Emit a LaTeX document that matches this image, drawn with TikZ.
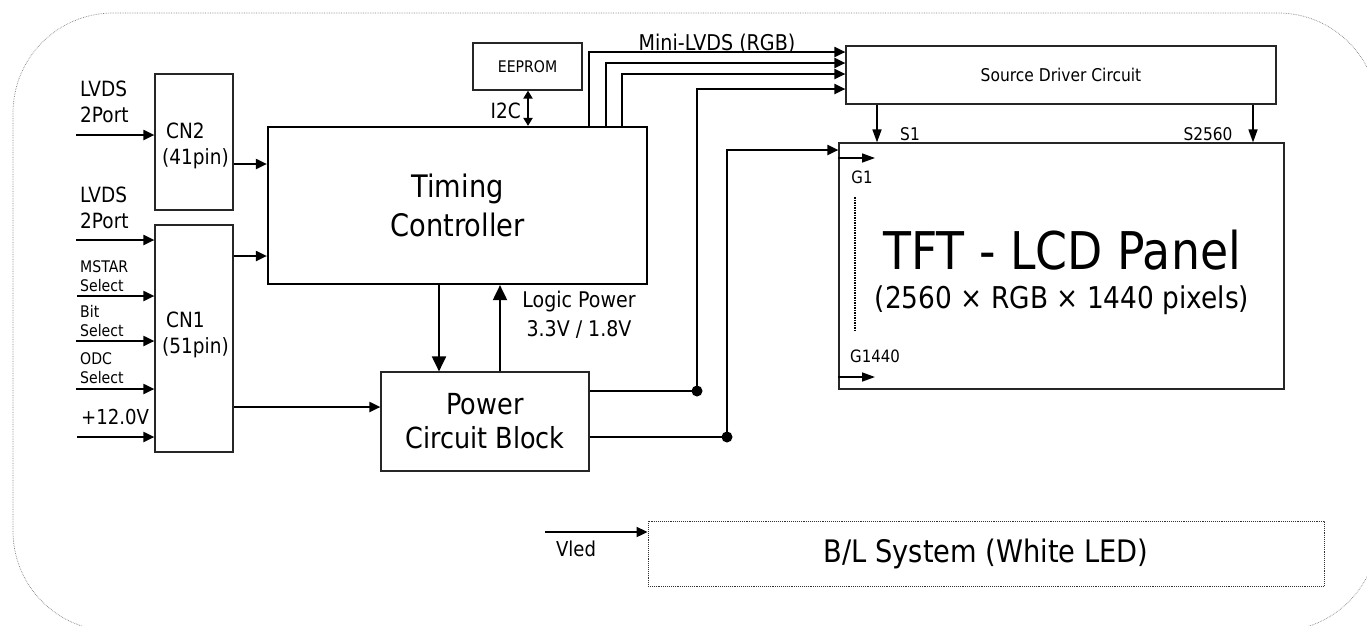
\documentclass[tikz,border=0pt]{standalone}
\usepackage{fontspec}
\setmainfont{DejaVu Sans}[FakeStretch=0.88]
\usetikzlibrary{arrows.meta}
\newcommand{\fsz}[2]{\fontsize{#1}{#2}\selectfont}
\tikzset{
    frame/.style  = {draw=gray, densely dotted, line width=0.7pt,
                     rounded corners=100pt},
    blk/.style    = {draw=black!85, line width=1.2pt, inner sep=0pt},
    tconbox/.style= {draw=black, line width=2.2pt, inner sep=0pt},
    blbox/.style  = {draw=black!80, densely dotted, line width=0.9pt,
                     inner sep=0pt},
    arr/.style    = {-{Triangle[length=11pt, width=10pt]}, line width=2pt},
    thinarr/.style= {-{Triangle[length=13pt, width=9pt]}, line width=1.6pt},
    bigarr/.style = {-{Triangle[length=15pt, width=14pt]}, line width=2pt},
    dblarr/.style = {{Triangle[length=8pt, width=9pt]}-{Triangle[length=8pt, width=9pt]},
                     line width=2pt},
    dot/.style    = {circle, fill, inner sep=0pt, minimum size=11pt},
    lbl/.style    = {inner sep=0pt, align=left, anchor=west,
                     font=\fsz{21}{26}},
    sel/.style    = {inner sep=0pt, align=left, anchor=west,
                     font=\fsz{16}{19}},
}
\begin{document}
\begin{tikzpicture}[x=1pt, y=-1pt]
        \useasboundingbox (0,0) rectangle (1367,625);
        % outer frame
        \begin{scope}
          \clip (0,0) rectangle (1367,625);
          \draw[frame] (13,13) rectangle (1378,631);
        \end{scope}
        % blocks
        \node[blk, minimum width=78pt, minimum height=136pt] (cn2) at (194,142) {};
        \node[blk, minimum width=78pt, minimum height=227pt] (cn1) at (194,338.5) {};
        \node[tconbox, minimum width=379pt, minimum height=157pt,
              align=center, font=\fsz{31}{39}] (tcon) at (457.5,205.5) {Timing\\Controller};
        \node[blk, minimum width=109pt, minimum height=47pt,
              font=\fsz{16}{19}] (eep) at (527.5,66.5) {EEPROM};
        \node[blk, minimum width=208pt, minimum height=99pt,
              align=center, font=\fsz{29}{34}] (pwr) at (485,421.5) {Power\\Circuit Block};
        \node[blk, minimum width=430pt, minimum height=58pt,
              font=\fsz{17.6}{21}] (src) at (1061,75) {Source Driver Circuit};
        \node[blk, minimum width=445pt, minimum height=246pt] (pnl) at (1061.5,266) {};
        \node[blbox, minimum width=676pt, minimum height=65pt,
              font=\fsz{31}{36}] (bl) at (986,553.5) {B/L System (White LED)};
        % connector labels
        \node[lbl] (cn2t) at (162,146) {\hspace{4pt}CN2\\(41pin)};
        \node[lbl] (cn1t) at (162,335) {\hspace{4pt}CN1\\(51pin)};
        \node[anchor=base, inner sep=0pt, font=\fsz{52}{60}] (tft) at (1062,269) {TFT - LCD Panel};
        \node[anchor=base, inner sep=0pt, font=\fsz{30}{36}] (pix) at (1062,308)
              {(2560 × RGB × 1440 pixels)};
        % inputs
        \node[lbl] (in1t) at (80,102) {LVDS\\2Port};
        \node[lbl] (in2t) at (80,208) {LVDS\\2Port};
        \node[sel] (in3t) at (80,276.5) {MSTAR\\Select};
        \node[sel] (in4t) at (80,321.5) {Bit\\Select};
        \node[sel] (in5t) at (80,368.5) {ODC\\Select};
        \node[lbl, font=\fsz{20.6}{24}] (in6t) at (81,417) {+12.0V};
        \coordinate (in1) at (76,135);
        \coordinate (in2) at (76,240);
        \coordinate (in3) at (77,296);
        \coordinate (in4) at (76,341);
        \coordinate (in5) at (76,389);
        \coordinate (in6) at (77,437);
        \foreach \p/\b in {in1/cn2, in2/cn1, in3/cn1, in4/cn1, in5/cn1, in6/cn1}
          \draw[arr] (\p) -- (\p -| \b.west);
        % connectors into timing controller and power block
        \coordinate (k1) at (250,164);
        \coordinate (k2) at (250,256);
        \coordinate (k3) at (300,407);
        \draw[arr] (k1 -| cn2.east) -- (k1 -| tcon.west);
        \draw[arr] (k2 -| cn1.east) -- (k2 -| tcon.west);
        \draw[arr] (k3 -| cn1.east) -- (k3 -| pwr.west);
        \coordinate (v1) at (439,330);
        \coordinate (v2) at (500,330);
        \draw[bigarr] (v1 |- tcon.south) -- (v1 |- pwr.north);
        \draw[bigarr] (v2 |- pwr.north) -- (v2 |- tcon.south);
        \node[align=center, inner sep=0pt, font=\fsz{21.6}{29}] (lp) at (579,314.5)
              {Logic Power\\3.3V / 1.8V};
        % eeprom link
        \coordinate (ic) at (528,110);
        \draw[dblarr] (ic |- eep.south) -- (ic |- tcon.north);
        \node[anchor=east, inner sep=0pt, font=\fsz{21}{24}] (ict) at (521,111) {I2C};
        % mini-lvds buses
        \coordinate (m1) at (589,52);
        \coordinate (m2) at (606,63);
        \coordinate (m3) at (622,74);
        \foreach \m in {m1, m2, m3}
          \draw[arr] (\m |- tcon.north) -- (\m) -- (\m -| src.west);
        \node[anchor=base, inner sep=0pt, font=\fsz{21.7}{25}] (mlt) at (717,50) {Mini-LVDS (RGB)};
        % power rails
        \coordinate (m4) at (697,89);
        \coordinate (m5) at (727,150);
        \node[dot] (d1) at (697,391) {};
        \node[dot] (d2) at (727,437) {};
        \draw[line width=2pt] (d1 -| pwr.east) -- (d1.center);
        \draw[line width=2pt] (d2 -| pwr.east) -- (d2.center);
        \draw[arr] (d1.center) -- (m4) -- (m4 -| src.west);
        \draw[arr] (d2.center) -- (m5) -- (m5 -| pnl.west);
        % source and gate lines
        \coordinate (s1) at (877,120);
        \coordinate (s2) at (1253,120);
        \draw[thinarr] (s1 |- src.south) -- (s1 |- pnl.north);
        \draw[thinarr] (s2 |- src.south) -- (s2 |- pnl.north);
        \node[inner sep=0pt, font=\fsz{17.5}{20}] (s1t) at (910,134) {S1};
        \node[inner sep=0pt, font=\fsz{17.5}{20}] (s2t) at (1208,134) {S2560};
        \coordinate (g1) at (875,158);
        \coordinate (g2) at (875,377);
        \draw[thinarr] (g1 -| pnl.west) -- (g1);
        \draw[thinarr] (g2 -| pnl.west) -- (g2);
        \node[inner sep=0pt, font=\fsz{17}{20}] (g1t) at (862,177.5) {G1};
        \node[inner sep=0pt, font=\fsz{17}{20}] (g2t) at (875,356.5) {G1440};
        \coordinate (gd1) at (855,197);
        \coordinate (gd2) at (855,330);
        \draw[densely dotted, line width=1.5pt] (gd1) -- (gd2);
        % backlight
        \coordinate (vl) at (545,532);
        \draw[arr] (vl) -- (vl -| bl.west);
        \node[inner sep=0pt, font=\fsz{20.5}{24}] (vlt) at (576,549) {Vled};
      \end{tikzpicture}
\end{document}
